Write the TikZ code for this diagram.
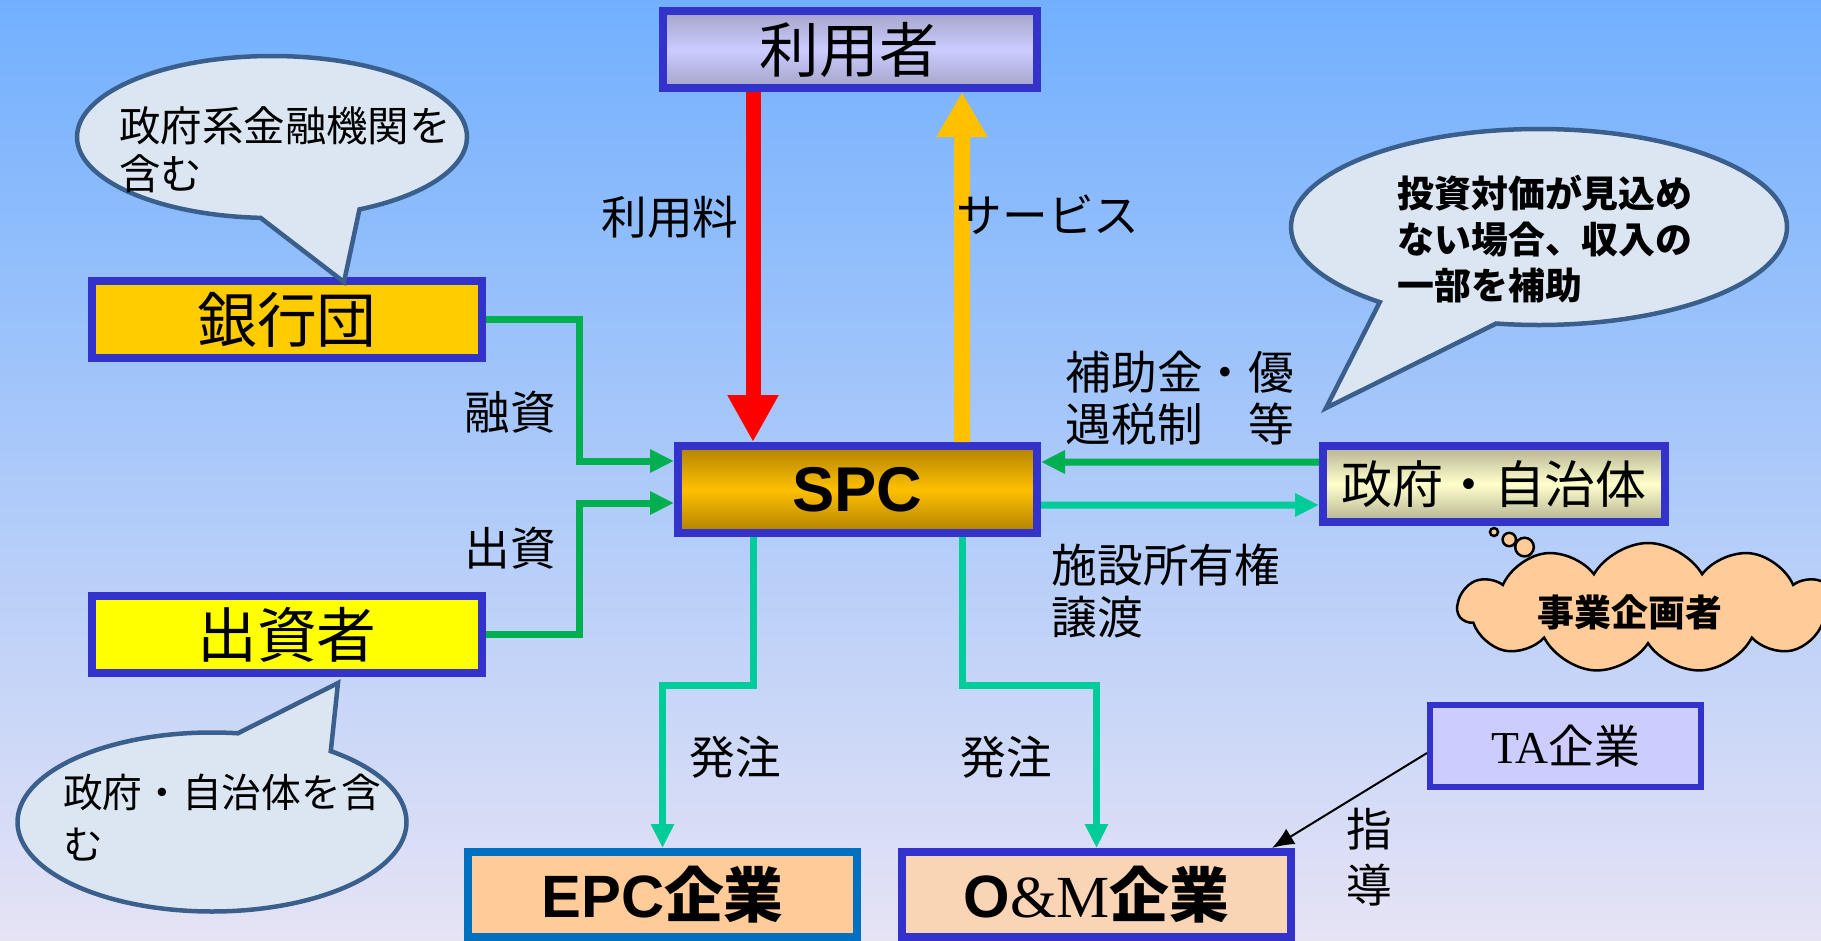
\documentclass[tikz,border=0pt]{standalone}
\usepackage{fontspec}
\setmainfont{Noto Sans CJK JP}
\newfontfamily\arialfont{Liberation Sans}
\newfontfamily\timesfont{Liberation Serif}
\usepackage{tikz}
\usetikzlibrary{positioning}
\usetikzlibrary{shapes}
\usetikzlibrary{arrows.meta}

\definecolor{bgTop}{HTML}{72B0FE}
\definecolor{bgBottom}{HTML}{E6E3F5}
\definecolor{boxBorder}{HTML}{3333CC}
\definecolor{userDark}{HTML}{A3A3C8}
\definecolor{userLight}{HTML}{CCCCFF}
\definecolor{spcDark}{HTML}{B08000}
\definecolor{spcLight}{HTML}{FFC000}
\definecolor{govDark}{HTML}{B4B292}
\definecolor{govLight}{HTML}{FFFFCC}
\definecolor{bankFill}{HTML}{FFCC00}
\definecolor{investFill}{HTML}{FFFF00}
\definecolor{epcBorder}{HTML}{0070C0}
\definecolor{epcFill}{HTML}{FFCC99}
\definecolor{omFill}{HTML}{FAD5B5}
\definecolor{taFill}{HTML}{CCCCFF}
\definecolor{noteFill}{HTML}{DCE6F2}
\definecolor{noteBorder}{HTML}{3B5F8C}
\definecolor{cloudFill}{HTML}{FFCC99}
\definecolor{feeRed}{HTML}{FF0000}
\definecolor{serviceGold}{HTML}{FFC000}
\definecolor{loanGreen}{HTML}{00B050}
\definecolor{orderTeal}{HTML}{00CC99}

\begin{document}
\begin{tikzpicture}[y=-1cm,
	box/.style={rectangle, draw=boxBorder, line width=0.8mm, inner sep=0pt, minimum width=3.9cm, minimum height=0.77cm, font=\fontsize{17}{20}\selectfont},
	edgeLabel/.style={inner sep=0pt, align=left, font=\fontsize{13}{15}\selectfont},
	note/.style={ellipse callout, draw=noteBorder, fill=noteFill, line width=0.45mm, inner sep=0pt, callout pointer arc=30},
	noteText/.style={inner sep=0pt, align=left},
	feeArrow/.style={draw=feeRed, line width=1.5mm, -{Triangle[length=4.7mm,width=4.8mm]}},
	serviceArrow/.style={draw=serviceGold, line width=1.6mm, -{Triangle[length=4.5mm,width=4.8mm]}},
	loanArrow/.style={draw=loanGreen, line width=0.7mm, -{Triangle[length=2.4mm,width=2.2mm]}},
	orderArrow/.style={draw=orderTeal, line width=0.7mm, -{Triangle[length=2.4mm,width=2.2mm]}},
	guideArrow/.style={draw=black, line width=0.2mm, -{Latex[length=2.2mm,width=1.8mm]}}]

	\useasboundingbox (0,0) rectangle (18.21,9.41);
	\shade[top color=bgTop, bottom color=bgBottom] (0,0) rectangle (18.21,9.41);

	\node[box, minimum width=3.74cm, top color=userDark, bottom color=userDark, middle color=userLight](userBox) at (8.495,0.495){利用者};
	\node[box, minimum width=3.59cm, minimum height=0.87cm, top color=spcDark, bottom color=spcDark, middle color=spcLight, font=\arialfont\bfseries\fontsize{18}{20}\selectfont](spcBox) at (8.575,4.895){SPC};
	\node[box, fill=bankFill](bankBox) at (2.87,3.195){銀行団};
	\node[box, fill=investFill](investBox) at (2.87,6.345){出資者};
	\node[box, minimum width=3.42cm, minimum height=0.76cm, top color=govDark, bottom color=govDark, middle color=govLight, font=\fontsize{14.5}{17}\selectfont](govBox) at (14.94,4.84){政府・自治体};
	\node[box, draw=epcBorder, fill=epcFill, minimum width=3.89cm, minimum height=0.85cm, font=\bfseries\fontsize{17}{20}\selectfont](epcBox) at (6.625,8.945){{\arialfont EPC}企業};
	\node[box, fill=omFill, minimum width=3.89cm, minimum height=0.85cm, font=\bfseries\fontsize{17}{20}\selectfont](omBox) at (10.965,8.945){{\arialfont O}{\timesfont\mdseries\&M}企業};
	\node[box, fill=taFill, line width=0.6mm, minimum width=2.71cm, minimum height=0.82cm, font=\fontsize{13}{15}\selectfont](taBox) at (15.655,7.46){{\timesfont TA}企業};

	\draw[feeArrow] ([xshift=-0.965cm]userBox.south) -- ([xshift=-1.045cm]spcBox.north);
	\draw[serviceArrow] ([xshift=1.045cm]spcBox.north) -- ([xshift=1.125cm]userBox.south);
	\draw[loanArrow] (bankBox.east) -- ++(0.93,0) |- ([yshift=2.85mm]spcBox.west);
	\draw[loanArrow] (investBox.east) -- ++(0.93,0) |- ([yshift=-1.35mm]spcBox.west);
	\draw[loanArrow] ([yshift=2.2mm]govBox.west) -- ([yshift=2.75mm]spcBox.east);
	\draw[orderArrow] ([yshift=-1.55mm]spcBox.east) -- ([yshift=-2.1mm]govBox.west);
	\draw[orderArrow] ([xshift=-1.045cm]spcBox.south) -- ++(0,1.48) -| (epcBox.north);
	\draw[orderArrow] ([xshift=1.045cm]spcBox.south) -- ++(0,1.48) -| (omBox.north);
	\draw[guideArrow] ([yshift=-0.7mm]taBox.west) -- ([xshift=-2.3mm]omBox.north east);

	\node[edgeLabel](feeLabel) at (6.70,2.17){利用料};
	\node[edgeLabel](serviceLabel) at (10.48,2.15){サービス};
	\node[edgeLabel](loanLabel) at (5.10,4.12){融資};
	\node[edgeLabel](equityLabel) at (5.10,5.48){出資};
	\node[edgeLabel, anchor=west](subsidyLabel) at (10.65,3.98){補助金・優\\遇税制　等};
	\node[edgeLabel, anchor=west](transferLabel) at (10.51,5.91){施設所有権\\譲渡};
	\node[edgeLabel](orderLabelA) at (7.35,7.57){発注};
	\node[edgeLabel](orderLabelB) at (10.06,7.57){発注};
	\node[edgeLabel, align=center](guideLabel) at (13.69,8.57){指\\[1pt]導};

	\node[note, minimum width=3.90cm, minimum height=1.62cm, callout absolute pointer={([xshift=5.7mm,yshift=-0.5mm]bankBox.north)}](bankNote) at (2.72,1.37){};
	\node[noteText, font=\fontsize{11.8}{13.7}\selectfont](bankNoteText) at (2.85,1.50){政府系金融機関を\\含む};

	\node[note, minimum width=4.96cm, minimum height=1.96cm, callout absolute pointer={([xshift=0.7mm,yshift=3.4mm]govBox.north west)}](govNote) at (15.39,2.27){};
	\node[noteText, font=\bfseries\fontsize{10.5}{13}\selectfont](govNoteText) at (15.45,2.39){投資対価が見込め\\ない場合、収入の\\一部を補助};

	\node[note, minimum width=3.89cm, minimum height=1.79cm, callout absolute pointer={([xshift=5.1mm,yshift=-0.6mm]investBox.south)}](investNote) at (2.12,8.22){};
	\node[noteText, font=\fontsize{11.3}{14.8}\selectfont](investNoteText) at (2.22,8.18){政府・自治体を含\\む};

	\node[cloud callout, draw=black, fill=cloudFill, line width=0.25mm, cloud puffs=11, cloud puff arc=120, aspect=2.9, minimum width=3.8cm, minimum height=1.3cm, inner sep=0pt, callout absolute pointer={([yshift=-0.6mm]govBox.south)}, callout pointer start size=0.24cm and 0.24cm, callout pointer end size=0.08cm and 0.08cm, callout pointer segments=3](plannerCloud) at (16.48,6.08){};
	\node[inner sep=0pt, font=\bfseries\fontsize{10.5}{12}\selectfont](plannerText) at (16.30,6.12){事業企画者};

\end{tikzpicture}
\end{document}
